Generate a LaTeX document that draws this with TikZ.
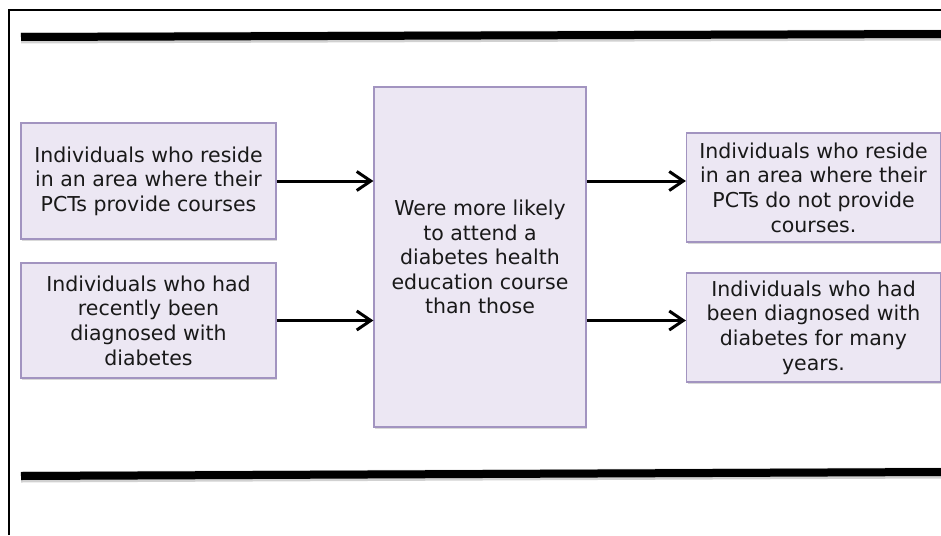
\documentclass[tikz,border=0pt]{standalone}
\usepackage{fontspec}
\setmainfont{DejaVu Sans}
\usetikzlibrary{arrows.meta,shadows}
\definecolor{boxfill}{RGB}{236,231,243}
\definecolor{boxline}{RGB}{162,148,192}
\definecolor{inktext}{RGB}{25,25,25}
\begin{document}
\begin{tikzpicture}[x=1pt,y=-1pt,
  card/.style={draw=boxline, line width=1.2pt, fill=boxfill,
    drop shadow={shadow xshift=1pt, shadow yshift=-1.8pt, opacity=0.3},
    font=\fontsize{20.5}{24.6}\selectfont, text=inktext, align=center,
    inner sep=0pt},
  link/.style={line width=3pt, -{Straight Barb[length=14pt,width=19pt,line width=3pt]}},
  rule/.style={line width=8pt, line cap=butt},
  ruleshade/.style={line width=11pt, black!18, line cap=butt}]
\useasboundingbox (0,0) rectangle (941,535);

% outer frame, open at right and bottom
\draw[line width=2pt] (9,535) -- (9,10) -- (941,10);

% horizontal rules
\coordinate (topL) at (21,37);
\coordinate (topR) at (941,34);
\coordinate (botL) at (21,476);
\coordinate (botR) at (941,472);
\draw[ruleshade] ([yshift=-1pt]topL) -- ([yshift=-1pt]topR);
\draw[rule] (topL) -- (topR);
\draw[ruleshade] ([yshift=-1pt]botL) -- ([yshift=-1pt]botR);
\draw[rule] (botL) -- (botR);

% boxes
\node[card, minimum width=255pt, minimum height=116pt] (l1) at (148.5,181)
  {Individuals who reside\\in an area where their\\PCTs provide courses};
\node[card, minimum width=255pt, minimum height=115pt] (l2) at (148.5,320.5)
  {Individuals who had\\recently been\\diagnosed with\\diabetes};
\node[card, minimum width=212pt, minimum height=340pt] (c) at (480,257)
  {Were more likely\\to attend a\\diabetes health\\education course\\than those};
\node[card, minimum width=254pt, minimum height=109pt] (r1) at (813.5,187.5)
  {Individuals who reside\\in an area where their\\PCTs do not provide\\courses.};
\node[card, minimum width=254pt, minimum height=109pt] (r2) at (813.5,327.5)
  {Individuals who had\\been diagnosed with\\diabetes for many\\years.};

% connectors
\draw[link] (l1.east) -- (l1.east -| c.west);
\draw[link] (l2.east) -- (l2.east -| c.west);
\draw[link] (c.east |- l1.east) -- (r1.west |- l1.east);
\draw[link] (c.east |- l2.east) -- (r2.west |- l2.east);
\end{tikzpicture}
\end{document}
